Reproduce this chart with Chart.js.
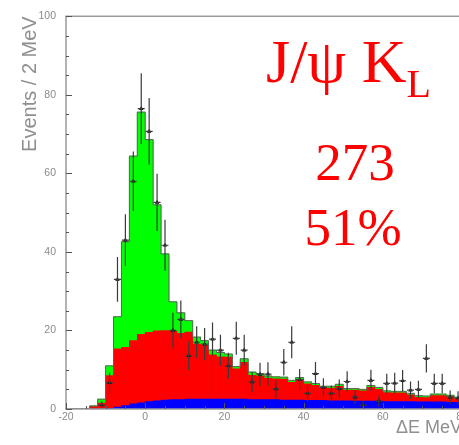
<!DOCTYPE html>
<html>
<head>
<meta charset="utf-8">
<title>Delta E - J/psi KL</title>
<script src="https://cdn.jsdelivr.net/npm/chart.js@4.4.0/dist/chart.umd.min.js"></script>
<style>
  html, body { margin: 0; padding: 0; background: #fff; overflow: hidden; }
  #wrap { width: 475px; height: 445px; }
</style>
</head>
<body>
<div id="wrap"><canvas id="deltaE" width="475" height="445"></canvas></div>
<script>
// 2 MeV bins from -20 to 80 MeV (bin centres)
const binCentres = [-19, -17, -15, -13, -11, -9, -7, -5, -3, -1,
  1, 3, 5, 7, 9, 11, 13, 15, 17, 19,
  21, 23, 25, 27, 29, 31, 33, 35, 37, 39,
  41, 43, 45, 47, 49, 51, 53, 55, 57, 59,
  61, 63, 65, 67, 69, 71, 73, 75, 77, 79];

// top of the blue component
const combTop = [0, 0, 0, 0, 0, 0.2, 0.5, 0.9, 1.3, 1.6,
  1.9, 2.1, 2.3, 2.4, 2.4, 2.5, 2.5, 2.5, 2.5, 2.5,
  2.5, 2.5, 2.5, 2.4, 2.4, 2.4, 2.4, 2.3, 2.3, 2.3,
  2.2, 2.2, 2.2, 2.1, 2.1, 2.1, 2.0, 2.0, 2.0, 2.0,
  1.9, 1.9, 1.9, 1.9, 1.8, 1.8, 1.8, 1.8, 1.7, 1.7];

// top of the red component (blue + red)
const bkgTop = [0, 0, 0, 0.6, 1.5, 8.5, 15.3, 15.7, 17.4, 19,
  19.5, 19.9, 20, 19.8, 19.3, 19.6, 16.5, 16.2, 13.8, 13.3,
  13.2, 10.2, 11.9, 8.6, 8.4, 7.9, 7.7, 7.6, 6.8, 7.5,
  6.4, 6.0, 5.3, 5.3, 5.8, 4.8, 4.8, 4.6, 5.5, 5.0,
  4.2, 4.1, 4.1, 3.6, 3.0, 2.9, 3.4, 3.4, 3.1, 2.6];

// top of the green component (total fit)
const totalTop = [0, 0, 0, 0.8, 2.5, 11, 23.5, 42.6, 64.4, 75.6,
  68.6, 52, 39.5, 27.3, 24.5, 22.5, 18.3, 17.4, 15, 14.4,
  14, 10.8, 12.8, 9.4, 9, 8.4, 8.2, 8.1, 7.3, 8,
  6.9, 6.5, 5.8, 5.8, 6.3, 5.2, 5.2, 5.0, 6, 5.5,
  4.6, 4.5, 4.5, 4, 3.4, 3.3, 3.8, 3.8, 3.5, 3.0];

// data points and their errors (null = no point)
const dataVals = [null, null, null, null, 1, 6.7, 33, 43, 58, 76.5,
  70.7, 52.6, 41.7, 20, 22.8, 13.6, 17, 16.5, 17.8, 15,
  11, 18, 15, 6.9, 8.8, 8.9, 5.1, 11.9, 17, 7.5,
  4, 9, 5.5, 4, 5.2, 7, 3, 1, 7.3, 2,
  6.5, 6.6, 7.2, 4.8, 5, 12.9, 6.5, 6.5, 3, 2.8];
const dataErrs = [null, null, null, null, 1, 2.6, 5.7, 6.6, 7.6, 9,
  8.5, 7.3, 6.5, 4.5, 4.8, 3.7, 4.1, 4.1, 4.2, 3.9,
  3.3, 4.2, 3.9, 2.6, 3, 3, 2.3, 3.4, 4.1, 2.7,
  2, 3, 2.3, 2, 2.3, 2.6, 1.7, 1, 2.7, 1.4,
  2.5, 2.6, 2.7, 2.2, 2.2, 3.6, 2.5, 2.5, 1.7, 1.7];

const decayName = 'J/ψ K';
const decaySub = 'L';
const nEvents = '273';
const purity = '51%';

const tickGray = '#8a8a8a';

const toXY = arr => binCentres.map((x, i) => ({ x: x, y: arr[i] }));

// error bars on the data points
const errorBars = {
  id: 'errorBars',
  afterDatasetsDraw(chart) {
    const { ctx, scales: { x, y } } = chart;
    ctx.save();
    ctx.strokeStyle = '#3a3a3a';
    ctx.lineWidth = 1.2;
    dataVals.forEach((v, i) => {
      if (v === null) return;
      const px = x.getPixelForValue(binCentres[i]);
      const yHi = y.getPixelForValue(v + dataErrs[i]);
      const yLo = y.getPixelForValue(Math.max(v - dataErrs[i], 0));
      const yv = y.getPixelForValue(v);
      ctx.beginPath();
      ctx.moveTo(px, yHi);
      ctx.lineTo(px, yLo);
      ctx.moveTo(px - 3.5, yv);
      ctx.lineTo(px + 3.5, yv);
      ctx.stroke();
    });
    ctx.restore();
  }
};

// frame, inward tick marks and the red labels
const frameAndText = {
  id: 'frameAndText',
  afterDraw(chart) {
    const { ctx, chartArea: a, scales: { x, y } } = chart;
    ctx.save();
    ctx.strokeStyle = '#9a9a9a';
    ctx.lineWidth = 1.5;
    ctx.strokeRect(a.left, a.top, a.right - a.left, a.bottom - a.top);

    ctx.strokeStyle = '#555';
    ctx.lineWidth = 1;
    ctx.beginPath();
    for (let v = 0; v <= 100; v += 5) {
      const py = Math.round(y.getPixelForValue(v)) + 0.5;
      const len = v % 20 === 0 ? 6 : 3;
      ctx.moveTo(a.left, py);
      ctx.lineTo(a.left + len, py);
    }
    for (let v = -20; v <= 80; v += 5) {
      const px = Math.round(x.getPixelForValue(v)) + 0.5;
      const len = v % 20 === 0 ? 6 : 3;
      ctx.moveTo(px, a.bottom);
      ctx.lineTo(px, a.bottom - len);
    }
    ctx.stroke();

    ctx.fillStyle = '#ff0000';
    ctx.textBaseline = 'alphabetic';
    ctx.textAlign = 'left';
    ctx.font = '62px "Liberation Serif", "Times New Roman", serif';
    ctx.fillText(decayName, 266, 82);
    const w = ctx.measureText(decayName).width;
    ctx.font = '40px "Liberation Serif", "Times New Roman", serif';
    ctx.fillText(decaySub, 266 + w, 97);
    ctx.textAlign = 'center';
    ctx.font = '53px "Liberation Serif", "Times New Roman", serif';
    ctx.fillText(nEvents, 355, 180);
    ctx.fillText(purity, 353, 245);
    ctx.restore();
  }
};

const barStyle = {
  grouped: false,
  barPercentage: 1,
  categoryPercentage: 1,
  borderWidth: 0
};

const ctx = document.getElementById('deltaE').getContext('2d');
new Chart(ctx, {
  type: 'bar',
  data: {
    datasets: [
      {
        type: 'line',
        label: 'data',
        data: toXY(dataVals).filter(p => p.y !== null),
        showLine: false,
        pointStyle: 'triangle',
        pointRadius: 2.6,
        pointBackgroundColor: '#000',
        pointBorderColor: '#000',
        pointBorderWidth: 0,
        order: 0
      },
      {
        type: 'line',
        label: 'fit outline',
        data: toXY(totalTop),
        stepped: 'middle',
        borderColor: '#606060',
        borderWidth: 1,
        pointRadius: 0,
        fill: false,
        order: 1
      },
      Object.assign({ label: 'blue', data: toXY(combTop), backgroundColor: '#0000ff', order: 2 }, barStyle),
      Object.assign({ label: 'red', data: toXY(bkgTop), backgroundColor: '#ff0000', order: 3 }, barStyle),
      Object.assign({ label: 'green', data: toXY(totalTop), backgroundColor: '#00ff00', order: 4 }, barStyle)
    ]
  },
  options: {
    responsive: false,
    animation: false,
    layout: { padding: { top: 12, right: 13, bottom: 0, left: 0 } },
    plugins: {
      legend: { display: false },
      tooltip: { enabled: false }
    },
    scales: {
      x: {
        type: 'linear',
        min: -20,
        max: 80,
        offset: false,
        grid: { display: false, offset: false, drawTicks: false },
        border: { display: false },
        ticks: {
          stepSize: 20,
          padding: 2,
          color: tickGray,
          font: { family: '"Liberation Sans", Arial, sans-serif', size: 10.5 }
        },
        title: {
          display: true,
          text: 'ΔE MeV',
          align: 'end',
          color: '#8f8f8f',
          padding: { bottom: 6 },
          font: { family: '"Liberation Sans", Arial, sans-serif', size: 18 }
        },
        afterFit: s => { s.height = 36; }
      },
      y: {
        min: 0,
        max: 100,
        grid: { display: false, drawTicks: false },
        border: { display: false },
        ticks: {
          stepSize: 20,
          padding: 10,
          color: tickGray,
          font: { family: '"Liberation Sans", Arial, sans-serif', size: 10.5 }
        },
        title: {
          display: true,
          text: 'Events / 2 MeV',
          align: 'end',
          color: '#8f8f8f',
          padding: { top: 18 },
          font: { family: '"Liberation Sans", Arial, sans-serif', size: 20 }
        },
        afterFit: s => { s.width = 66; }
      }
    }
  },
  plugins: [errorBars, frameAndText]
});
</script>
</body>
</html>
